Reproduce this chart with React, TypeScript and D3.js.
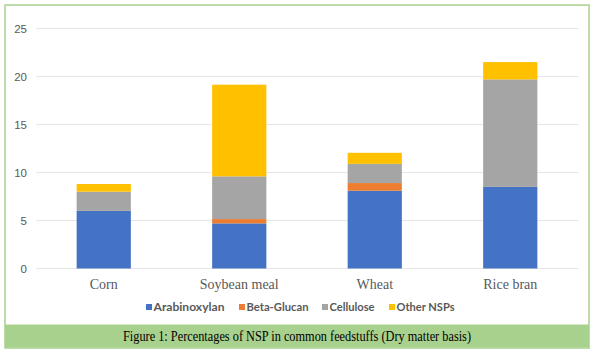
import React from "react";
import * as d3 from "d3";

const categories = ["Corn", "Soybean meal", "Wheat", "Rice bran"];
const seriesNames = ["Arabinoxylan", "Beta-Glucan", "Cellulose", "Other NSPs"];
const arabinoxylan = [6.0, 4.7, 8.1, 8.5];
const betaGlucan = [0, 0.45, 0.8, 0];
const cellulose = [2.0, 4.45, 2.0, 11.2];
const otherNSPs = [0.8, 9.55, 1.15, 1.8];
const yTicks = [0, 5, 10, 15, 20, 25];
const colors = ["#4472c4", "#ed7d31", "#a5a5a5", "#ffc000"];
const caption = "Figure 1: Percentages of NSP in common  feedstuffs (Dry matter basis)";

export default function App() {
  const W = 595, H = 355;
  const left = 36, right = 578, top = 28.5, bottom = 268.5;
  const x = d3.scaleBand<string>().domain(categories).range([left, right]).paddingInner(0.6).paddingOuter(0.3);
  const y = d3.scaleLinear().domain([0, 25]).range([bottom, top]);
  const rows = categories.map((c, i) => ({
    cat: c,
    "Arabinoxylan": arabinoxylan[i],
    "Beta-Glucan": betaGlucan[i],
    "Cellulose": cellulose[i],
    "Other NSPs": otherNSPs[i],
  }));
  const stacked = d3.stack<any>().keys(seriesNames)(rows);
  const legendX = [146, 239, 322, 389];
  const legendW = [71, 62, 45, 58];
  return (
    <svg width={W} height={H} style={{ position: "absolute", left: 0, top: 0 }}>
      <rect x={0} y={0} width={W} height={H} fill="#fff" />
      <rect x={5} y={5} width={584} height={343} fill="#fff" stroke="#a9d18e" strokeWidth={1.5} />
      {yTicks.map((t) => (
        <g key={t}>
          <line x1={left} x2={right} y1={y(t)} y2={y(t)} stroke="#e6e6e6" strokeWidth={1.2} />
          <text x={27} y={y(t)} dy="0.35em" textAnchor="end" fontFamily="Liberation Sans, Arial, sans-serif" fontSize={11.5} fill="#595959">{t}</text>
        </g>
      ))}
      {stacked.map((s, si) => (
        <g key={s.key}>
          {s.map((d, i) => (
            d[1] - d[0] > 0 ? (
              <rect key={i} x={x(categories[i])} width={x.bandwidth()} y={y(d[1])} height={y(d[0]) - y(d[1])} fill={colors[si]} />
            ) : null
          ))}
        </g>
      ))}
      {categories.map((c) => (
        <text key={c} x={(x(c) as number) + x.bandwidth() / 2} y={289} textAnchor="middle" fontFamily="Liberation Serif, Times New Roman, serif" fontSize={14} fill="#595959">{c}</text>
      ))}
      {seriesNames.map((n, i) => (
        <g key={n}>
          <rect x={legendX[i]} y={304} width={6} height={6} fill={colors[i]} />
          <text x={legendX[i] + 7.5} y={307} dy="0.35em" fontFamily="Lato, DejaVu Sans, sans-serif" fontWeight="bold" fontSize={12} fill="#595959" textLength={legendW[i]} lengthAdjust="spacingAndGlyphs">{n}</text>
        </g>
      ))}
      <rect x={5} y={324.5} width={584} height={23} fill="#a9d18e" />
      <text x={297} y={341} textAnchor="middle" fontFamily="Liberation Serif, Times New Roman, serif" fontSize={14.5} fill="#000" textLength={348} lengthAdjust="spacingAndGlyphs">{caption}</text>
    </svg>
  );
}
